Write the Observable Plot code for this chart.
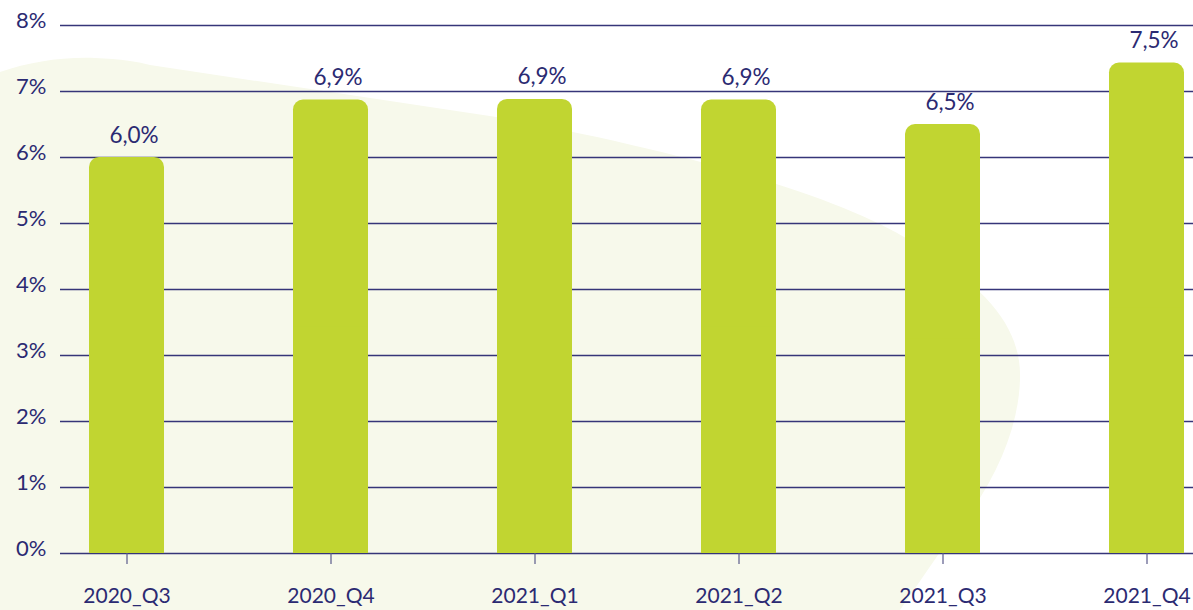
<!DOCTYPE html>
<html>
<head>
<meta charset="utf-8">
<script src="https://cdn.jsdelivr.net/npm/d3@7"></script>
<script src="https://cdn.jsdelivr.net/npm/@observablehq/plot@0.6"></script>
<style>
  html, body { margin: 0; padding: 0; background: #ffffff; }
  #chart { width: 1193px; height: 610px; position: relative; }
</style>
</head>
<body>
<div id="chart"></div>
<script>
// Data
const quarters = ["2020_Q3", "2020_Q4", "2021_Q1", "2021_Q2", "2021_Q3", "2021_Q4"];
const values = [6.0, 6.87, 6.88, 6.87, 6.5, 7.43];
const valueLabels = ["6,0%", "6,9%", "6,9%", "6,9%", "6,5%", "7,5%"];
const yTicks = [0, 1, 2, 3, 4, 5, 6, 7, 8];
const yTickLabels = ["0%", "1%", "2%", "3%", "4%", "5%", "6%", "7%", "8%"];

const data = quarters.map((q, i) => ({q, v: values[i], label: valueLabels[i]}));

const navy = "#2b2a72";
const green = "#c1d531";
const font = "Lato, 'Open Sans', sans-serif";

const plot = Plot.plot({
  width: 1193,
  height: 610,
  marginTop: 25,
  marginBottom: 57,
  marginLeft: 60,
  marginRight: 0,
  style: {background: "transparent", fontFamily: font, color: navy, overflow: "visible"},
  x: {domain: quarters, range: [88.5, 1183.5], paddingInner: 0.6324, paddingOuter: 0},
  y: {domain: [0, 8]},
  marks: [
    Plot.ruleY(yTicks, {stroke: navy, strokeWidth: 1.5, strokeOpacity: 0.95}),
    Plot.barY(data, {x: "q", y: "v", fill: green, rx: 10}),
    Plot.barY(data, {x: "q", y1: 0, y2: d => d.v / 2, fill: green}),
    Plot.text(data, {x: "q", y: "v", text: "label", lineAnchor: "bottom", dy: -15, dx: 7,
      fill: navy, fontSize: 22.5, fontFamily: font}),
    Plot.axisY({ticks: yTicks, tickFormat: (d) => yTickLabels[yTicks.indexOf(d)], tickSize: 0, tickPadding: 14,
      dy: -5, fontSize: 22, fontFamily: font, fill: navy, label: null}),
    Plot.axisX({tickSize: 11, tickPadding: 24, fontSize: 21, fontFamily: font, fill: navy,
      stroke: "#5a5a8a", strokeWidth: 1.2, label: null})
  ]
});

// Decorative background blob (not data)
const svg = d3.select(plot);
svg.insert("path", ":first-child")
  .attr("d", "M0,72 C30,62 60,57 95,58 C120,59 140,62 150,65 L503,118 C700,155 850,200 917,245 C990,290 1022,330 1020,380 C1018,440 985,500 938,555 L900,610 L0,610 Z")
  .attr("fill", "#f7f9eb");

document.getElementById("chart").appendChild(plot);
</script>
</body>
</html>
